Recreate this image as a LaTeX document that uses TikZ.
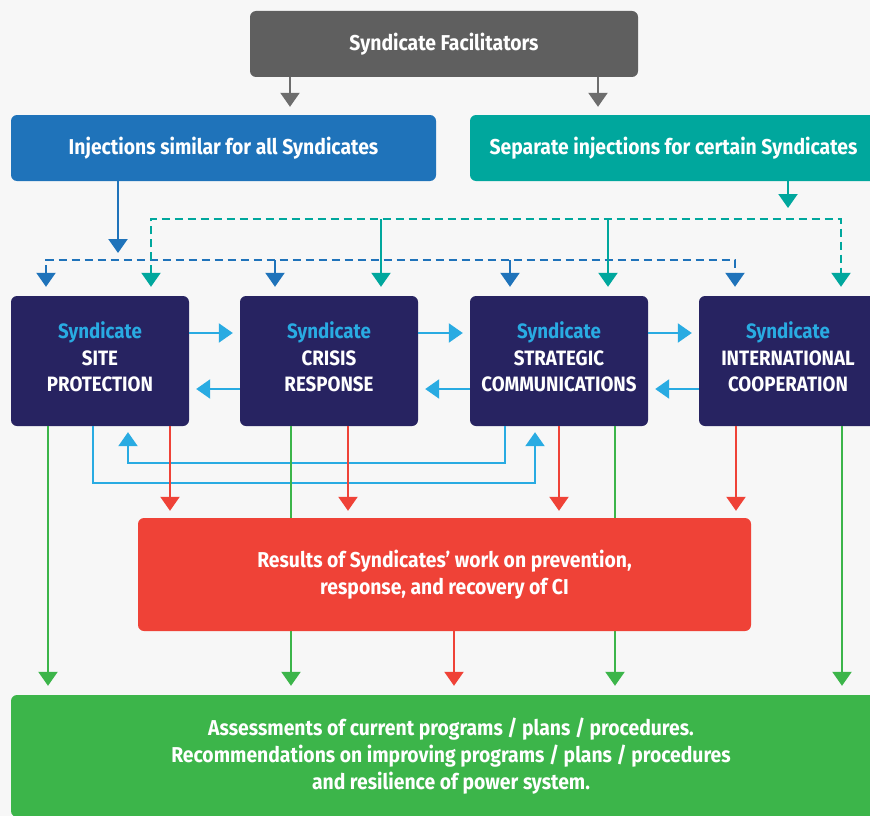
\documentclass[tikz,border=0pt]{standalone}
\usepackage{fontspec}
\setmainfont{Fira Sans}[FakeStretch=0.9]
\usetikzlibrary{arrows.meta}

\definecolor{bakgr}{HTML}{F7F7F7}
\definecolor{gra}{HTML}{5F5F5F}
\definecolor{grapil}{HTML}{6D6D6D}
\definecolor{bla}{HTML}{1F73BA}
\definecolor{turkos}{HTML}{00A79D}
\definecolor{marin}{HTML}{272361}
\definecolor{ljusbla}{HTML}{29ABE2}
\definecolor{rod}{HTML}{EF4237}
\definecolor{gron}{HTML}{3CB54A}

\begin{document}
\begin{tikzpicture}[x=1pt, y=-1pt,
  spets/.tip={Triangle[width=19pt, length=14pt]},
  box/.style={rounded corners=6pt, text=white, align=center, inner sep=0pt,
    font=\bfseries\fontsize{21.5}{26.8}\selectfont},
  synd/.style={box, fill=marin, minimum width=178, minimum height=130, text depth=8pt,
    font=\bfseries\fontsize{20.8}{26.5}\selectfont},
  pil/.style={line width=2.2pt, -spets},
  streck/.style={dash pattern=on 8pt off 5pt}]

\useasboundingbox (0,0) rectangle (870,816);
\clip (0,0) rectangle (870,816);
\fill[bakgr] (0,0) rectangle (870,816);

% kolumner och nivaer
\foreach \n/\x in {g1/290, g2/598, b0/118, b1/46, b2/275, b3/510, b4/735,
  t0/788, t1/151, t2/381, t3/608, t4/841, r0/454, r1/170, r2/348, r3/559, r4/736,
  v1/48, v2/291, v3/615, v4/842, l1/93, l2/535, l3/505, l4/128}
  \coordinate (\n) at (\x,0);
\coordinate (bl) at (0,260);
\coordinate (tl) at (0,219);
\coordinate (ly1) at (0,463);
\coordinate (ly2) at (0,483);

% rutor
\node[box, fill=gra, minimum width=388, minimum height=66] (fac) at (444,44) {Syndicate Facilitators};
\node[box, fill=bla, minimum width=425, minimum height=66] (inj) at (223.5,148) {Injections similar for all Syndicates};
\node[box, fill=turkos, minimum width=407, minimum height=66] (sep) at (673.5,148) {Separate injections for certain Syndicates};
\foreach \n/\x/\a/\b in {site/100/SITE/PROTECTION, crisis/329/CRISIS/RESPONSE,
  strat/559/STRATEGIC/COMMUNICATIONS, intl/788/INTERNATIONAL/COOPERATION}
  \node[synd] (\n) at (\x,361) {\textcolor{ljusbla}{Syndicate}\\\a\\\b};
\node[box, fill=gron, minimum width=880, minimum height=122] (ass) at (451,756)
  {Assessments of current programs / plans / procedures.\\
   Recommendations on improving programs / plans / procedures\\
   and resilience of power system.};

% facilitators
\foreach \c/\n in {g1/inj, g2/sep}
  \draw[pil, grapil, shorten >=8pt] (fac.south -| \c) -- (\n.north -| \c);

% injektioner, bla
\draw[pil, bla, shorten >=7pt] (inj.south -| b0) -- (b0 |- bl);
\draw[pil, bla, streck, spets-spets, shorten <=9pt, shorten >=9pt]
  (site.north -| b1) -- (b1 |- bl) -- (b4 |- bl) -- (intl.north -| b4);
\foreach \c/\n in {b2/crisis, b3/strat}
  \draw[pil, bla, shorten >=9pt] (\c |- bl) -- (\n.north -| \c);

% injektioner, turkos
\draw[pil, turkos, shorten >=11pt] (sep.south -| t0) -- (t0 |- tl);
\draw[pil, turkos, streck, spets-spets, shorten <=9pt, shorten >=9pt]
  (site.north -| t1) -- (t1 |- tl) -- (t4 |- tl) -- (intl.north -| t4);
\foreach \c/\n in {t2/crisis, t3/strat}
  \draw[pil, turkos, shorten >=9pt] (\c |- tl) -- (\n.north -| \c);

% mellan syndikaten
\foreach \a/\b in {site/crisis, crisis/strat, strat/intl} {
  \draw[pil, ljusbla, shorten >=7pt] ([yshift=28pt]\a.east) -- ([yshift=28pt]\b.west);
  \draw[pil, ljusbla, shorten >=7pt] ([yshift=-28pt]\b.west) -- ([yshift=-28pt]\a.east);
}
\draw[pil, ljusbla, shorten >=6pt] (site.south -| l1) -- (l1 |- ly2) -- (l2 |- ly2) -- (strat.south -| l2);
\draw[pil, ljusbla, shorten >=6pt] (strat.south -| l3) -- (l3 |- ly1) -- (l4 |- ly1) -- (site.south -| l4);

% gront bakom resultatrutan
\foreach \c/\n in {v1/site, v2/crisis, v3/strat, v4/intl}
  \draw[pil, gron, shorten >=9pt] (\n.south -| \c) -- (ass.north -| \c);

\node[box, fill=rod, minimum width=613, minimum height=113] (res) at (444.5,574.5)
  {Results of Syndicates’ work on prevention,\\ response, and recovery of CI};

% resultat
\foreach \c/\n in {r1/site, r2/crisis, r3/strat, r4/intl}
  \draw[pil, rod, shorten >=7pt] (\n.south -| \c) -- (res.north -| \c);
\draw[pil, rod, shorten >=9pt] (res.south -| r0) -- (ass.north -| r0);

\end{tikzpicture}
\end{document}
